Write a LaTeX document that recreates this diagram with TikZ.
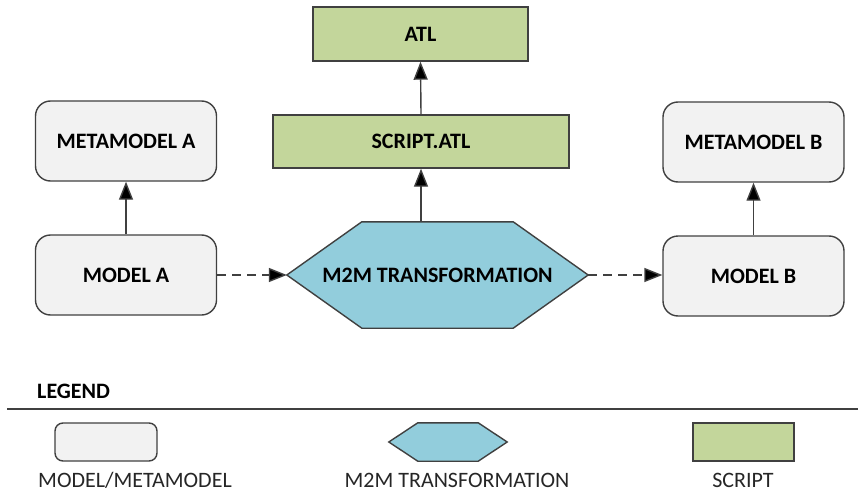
\documentclass[tikz,border=0pt]{standalone}
\usepackage{fontspec}
\setmainfont{Carlito}
\usetikzlibrary{arrows.meta,calc}
\pgfdeclarelayer{background}
\pgfsetlayers{background,main}
\definecolor{boxgray}{HTML}{F2F2F2}
\definecolor{hexblue}{HTML}{92CDDC}
\definecolor{scriptgreen}{HTML}{C3D69B}
\definecolor{edgegray}{HTML}{404040}
\tikzset{
  base/.style={font=\fontsize{22}{26}\selectfont\bfseries, text=black, inner sep=0pt},
  modelbox/.style={base, draw=edgegray, line width=1.4pt, fill=boxgray, rounded corners=15pt, minimum width=181pt, minimum height=80pt},
  scriptbox/.style={base, draw=edgegray, line width=1.4pt, fill=scriptgreen},
  hexnode/.style={base},
  hexdraw/.style={draw=edgegray, line width=1.4pt, fill=hexblue},
  conn/.style={draw=edgegray, line width=1.4pt, -{Triangle[length=18pt,width=14pt,fill=black]}},
  dconn/.style={conn, dash pattern=on 9pt off 6pt},
  legtext/.style={font=\fontsize{22}{26}\selectfont, text=black!85, inner sep=0pt},
}
\begin{document}
\begin{tikzpicture}[x=1pt,y=-1pt]
\useasboundingbox (0,0) rectangle (858,492);
% main nodes
\node[scriptbox, minimum width=215pt, minimum height=54pt] (atl) at (420.5,34) {ATL};
\node[scriptbox, minimum width=296pt, minimum height=53pt] (script) at (421,141.5) {SCRIPT.ATL};
\node[hexnode, minimum width=301pt, minimum height=106pt] (m2m) at (437.5,275) {M2M TRANSFORMATION};
\begin{pgfonlayer}{background}
\draw[hexdraw] (m2m.west) -- ($(m2m.north west)+(75,0)$) -- ($(m2m.north east)+(-75,0)$) -- (m2m.east) -- ($(m2m.south east)+(-75,0)$) -- ($(m2m.south west)+(75,0)$) -- cycle;
\end{pgfonlayer}
\node[modelbox] (metaA) at (126,141) {METAMODEL A};
\node[modelbox] (modelA) at (126,275) {MODEL A};
\node[modelbox] (metaB) at (753.5,142) {METAMODEL B};
\node[modelbox] (modelB) at (753.5,276) {MODEL B};
% connectors
\draw[conn] (modelA.north) -- (metaA.south);
\draw[conn] (modelB.north) -- (metaB.south);
\draw[conn] (script.north) -- (atl.south);
\draw[conn] (m2m.north -| script.south) -- (script.south);
\draw[dconn] (modelA.east) -- (m2m.west);
\draw[dconn] (m2m.east) -- (modelB.west |- m2m.east);
% legend
\node[base, anchor=west] (legend) at (37,391) {LEGEND};
\coordinate (lineL) at (7,409);
\coordinate (lineR) at (858,409);
\draw[edgegray, line width=1.6pt] (lineL) -- (lineR);
\node[draw=edgegray, line width=1.4pt, fill=boxgray, rounded corners=8pt, minimum width=102pt, minimum height=38pt, inner sep=0pt] (legmodel) at (106,442) {};
\node[inner sep=0pt, minimum width=118pt, minimum height=38pt] (leghex) at (448,442) {};
\begin{pgfonlayer}{background}
\draw[hexdraw] (leghex.west) -- ($(leghex.north west)+(29,0)$) -- ($(leghex.north east)+(-29,0)$) -- (leghex.east) -- ($(leghex.south east)+(-29,0)$) -- ($(leghex.south west)+(29,0)$) -- cycle;
\end{pgfonlayer}
\node[draw=edgegray, line width=1.4pt, fill=scriptgreen, minimum width=101pt, minimum height=38pt, inner sep=0pt] (legscript) at (743.5,442) {};
\node[legtext] (t1) at (135,480) {MODEL/METAMODEL};
\node[legtext] (t2) at (457,480) {M2M TRANSFORMATION};
\node[legtext] (t3) at (743,480) {SCRIPT};
\end{tikzpicture}
\end{document}
